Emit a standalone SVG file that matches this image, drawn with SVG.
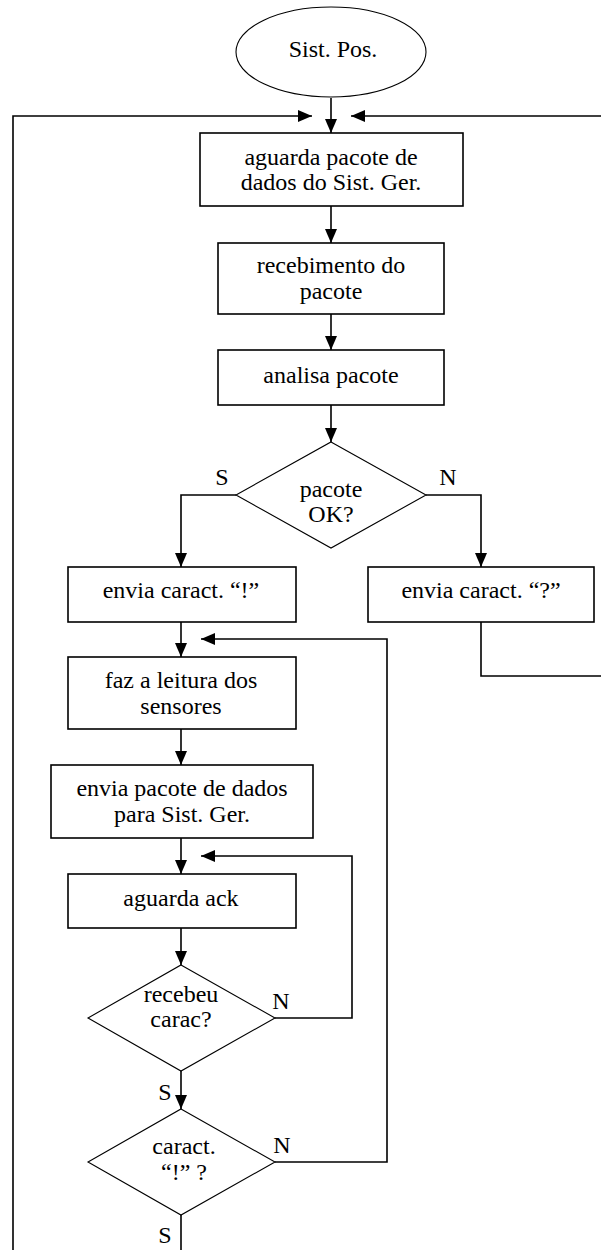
<svg xmlns="http://www.w3.org/2000/svg" width="601" height="1250" viewBox="0 0 601 1250">
  <style>
    .box { fill: #fff; stroke: #000; stroke-width: 1.6; }
    .dec { fill: #fff; stroke: #000; stroke-width: 1.1; }
    .wire { fill: none; stroke: #000; stroke-width: 1.6; }
    .lbl { font-family: "Liberation Serif", "Times New Roman", serif; font-size: 24px; fill: #000; text-anchor: middle; }
  </style>
  <defs>
    <marker id="arrow" markerUnits="userSpaceOnUse" markerWidth="15" markerHeight="13" refX="14" refY="6.5" orient="auto">
      <path d="M0,0.5 L14,6.5 L0,12.5 z" fill="#000"/>
    </marker>
  </defs>
  <rect width="601" height="1250" fill="#fff"/>

  <!-- connectors -->
  <g id="connectors">
    <path class="wire" d="M331,98 V133" marker-end="url(#arrow)"/>
    <path class="wire" d="M13,1250 V116 H312" marker-end="url(#arrow)"/>
    <path class="wire" d="M601,116 H351" marker-end="url(#arrow)"/>
    <path class="wire" d="M331,206 V243" marker-end="url(#arrow)"/>
    <path class="wire" d="M331,314 V350" marker-end="url(#arrow)"/>
    <path class="wire" d="M331,405 V442" marker-end="url(#arrow)"/>
    <path class="wire" d="M236,495 H181 V567" marker-end="url(#arrow)"/>
    <path class="wire" d="M426,495 H481 V567" marker-end="url(#arrow)"/>
    <path class="wire" d="M481,622 V676 H601"/>
    <path class="wire" d="M181,622 V657" marker-end="url(#arrow)"/>
    <path class="wire" d="M275,1162 H387 V639 H201" marker-end="url(#arrow)"/>
    <path class="wire" d="M181,729 V765" marker-end="url(#arrow)"/>
    <path class="wire" d="M181,838 V874" marker-end="url(#arrow)"/>
    <path class="wire" d="M275,1018 H352 V856 H201" marker-end="url(#arrow)"/>
    <path class="wire" d="M181,928 V965" marker-end="url(#arrow)"/>
    <path class="wire" d="M181,1071 V1109" marker-end="url(#arrow)"/>
    <path class="wire" d="M181,1215 V1250"/>
    <text class="lbl" x="222" y="485">S</text>
    <text class="lbl" x="448" y="485">N</text>
    <text class="lbl" x="281" y="1009">N</text>
    <text class="lbl" x="165" y="1100">S</text>
    <text class="lbl" x="282" y="1153">N</text>
    <text class="lbl" x="165" y="1243">S</text>
  </g>

  <g id="inicio">
    <ellipse class="dec" cx="331" cy="52" rx="95" ry="45"/>
    <text class="lbl" x="333" y="57">Sist. Pos.</text>
  </g>

  <g id="aguarda-pacote">
    <rect class="box" x="200" y="133" width="263" height="73"/>
    <text class="lbl" x="331" y="165">aguarda pacote de</text>
    <text class="lbl" x="331" y="190">dados do Sist. Ger.</text>
  </g>

  <g id="recebimento">
    <rect class="box" x="218" y="243" width="226" height="71"/>
    <text class="lbl" x="331" y="273">recebimento do</text>
    <text class="lbl" x="331" y="299">pacote</text>
  </g>

  <g id="analisa">
    <rect class="box" x="218" y="350" width="226" height="55"/>
    <text class="lbl" x="331" y="383">analisa pacote</text>
  </g>

  <g id="pacote-ok">
    <polygon class="dec" points="331,442 426,495 331,548 236,495"/>
    <text class="lbl" x="331" y="497">pacote</text>
    <text class="lbl" x="331" y="522">OK?</text>
  </g>

  <g id="envia-ok">
    <rect class="box" x="68" y="567" width="228" height="55"/>
    <text class="lbl" x="181" y="598">envia caract. “!”</text>
  </g>

  <g id="envia-erro">
    <rect class="box" x="368" y="567" width="226" height="55"/>
    <text class="lbl" x="481" y="598">envia caract. “?”</text>
  </g>

  <g id="leitura">
    <rect class="box" x="68" y="657" width="228" height="72"/>
    <text class="lbl" x="181" y="688">faz a leitura dos</text>
    <text class="lbl" x="181" y="714">sensores</text>
  </g>

  <g id="envia-dados">
    <rect class="box" x="51" y="765" width="262" height="73"/>
    <text class="lbl" x="182" y="796">envia pacote de dados</text>
    <text class="lbl" x="182" y="822">para Sist. Ger.</text>
  </g>

  <g id="aguarda-ack">
    <rect class="box" x="68" y="874" width="228" height="54"/>
    <text class="lbl" x="181" y="906">aguarda ack</text>
  </g>

  <g id="recebeu">
    <polygon class="dec" points="181,965 275,1018 181,1071 88,1018"/>
    <text class="lbl" x="181" y="1002">recebeu</text>
    <text class="lbl" x="181" y="1027">carac?</text>
  </g>

  <g id="caract-ok">
    <polygon class="dec" points="181,1109 275,1162 181,1215 88,1162"/>
    <text class="lbl" x="184" y="1154">caract.</text>
    <text class="lbl" x="184" y="1180">“!” ?</text>
  </g>
</svg>
